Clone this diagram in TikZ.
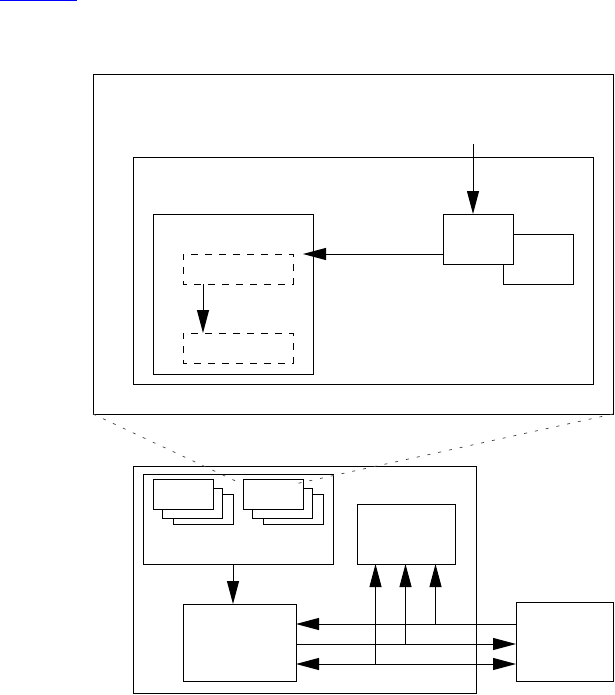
\documentclass[tikz,border=0pt]{standalone}
\usetikzlibrary{arrows.meta}
\begin{document}
\begin{tikzpicture}[x=1pt,y=-1pt,
  box/.style={draw=black, line width=1pt, fill=white, inner sep=0pt, outer sep=0pt, rectangle},
  dbox/.style={box, dash pattern=on 7pt off 7pt, dash phase=3pt},
  conn/.style={line width=1pt},
  arr/.style={conn, -{Triangle[length=23pt,width=12pt]}},
  darr/.style={conn, {Triangle[length=23pt,width=12pt]}-{Triangle[length=23pt,width=12pt]}},
  zoomline/.style={line width=0.7pt, black!75, dash pattern=on 3pt off 8pt}]
\useasboundingbox (0,0) rectangle (614,695);
% link underline at the top
\draw[blue, line width=1pt] (0,0.6) -- (77,0.6);
% top enlarged view
\node[box, minimum width=520pt, minimum height=339pt] (A) at (353,244.5) {};
\node[box, minimum width=460pt, minimum height=226pt] (B) at (363,271) {};
\node[box, minimum width=160pt, minimum height=160pt] (C) at (233,294) {};
\node[dbox, minimum width=110pt, minimum height=30pt] (D1) at (238,269) {};
\node[dbox, minimum width=110pt, minimum height=30pt] (D2) at (238,348) {};
\node[box, minimum width=70pt, minimum height=50pt] (F) at (538,259) {};
\node[box, minimum width=70pt, minimum height=50pt] (E) at (478,239) {};
\coordinate (ein) at (473,144);
\coordinate (ctip) at (303,254);
\coordinate (dx) at (203,0);
\draw[arr] (ein) -- (ein |- E.north);
\draw[arr] (E.west |- ctip) -- (ctip);
\draw[arr] (dx |- D1.south) -- (dx |- D2.north);
% lower system
\node[box, minimum width=343pt, minimum height=227pt] (G) at (304.5,579.5) {};
\node[box, minimum width=190pt, minimum height=90pt] (H) at (238,519) {};
\node[box, minimum width=60pt, minimum height=30pt] (S1c) at (203,509) {};
\node[box, minimum width=60pt, minimum height=30pt] (S1b) at (192,503) {};
\node[box, minimum width=60pt, minimum height=30pt] (S1a) at (183,494) {};
\node[box, minimum width=60pt, minimum height=30pt] (S2c) at (293,509) {};
\node[box, minimum width=60pt, minimum height=30pt] (S2b) at (282,503) {};
\node[box, minimum width=60pt, minimum height=30pt] (S2a) at (273,494) {};
\node[box, minimum width=98pt, minimum height=60pt] (I) at (406,534) {};
\node[box, minimum width=113pt, minimum height=77pt] (J) at (239.5,642.5) {};
\node[box, minimum width=97pt, minimum height=79pt] (K) at (564.5,641.5) {};
\coordinate (hx) at (233,0);
\draw[arr] (hx |- H.south) -- (hx |- J.north);
\coordinate (y1) at (0,624);
\coordinate (y2) at (0,644);
\coordinate (y3) at (0,664);
\coordinate (x1) at (375.5,0);
\coordinate (x2) at (405.5,0);
\coordinate (x3) at (435.5,0);
\draw[arr] (K.west |- y1) -- (J.east |- y1);
\draw[arr] (J.east |- y2) -- (K.west |- y2);
\draw[darr] (J.east |- y3) -- (K.west |- y3);
\draw[arr] (x3 |- y1) -- (x3 |- I.south);
\draw[arr] (x2 |- y2) -- (x2 |- I.south);
\draw[arr] (x1 |- y3) -- (x1 |- I.south);
% zoom lines
\coordinate (zl) at (242,484);
\coordinate (zr) at (295,484);
\draw[zoomline] (A.south west) -- (zl);
\draw[zoomline] (A.south east) -- (zr);
\end{tikzpicture}
\end{document}
